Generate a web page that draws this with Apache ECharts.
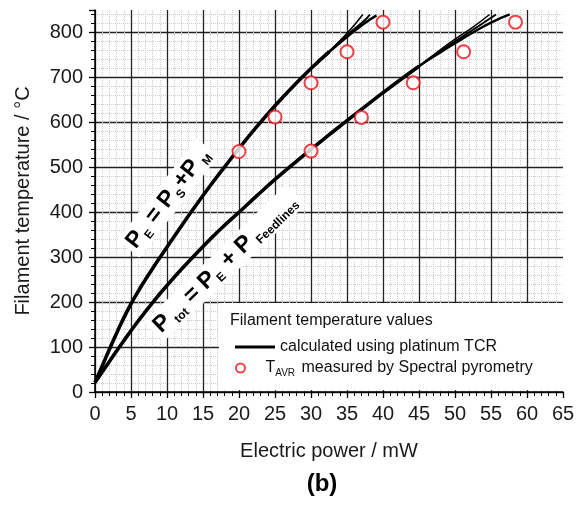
<!DOCTYPE html>
<html>
<head>
<meta charset="utf-8">
<script src="https://cdn.jsdelivr.net/npm/echarts/dist/echarts.min.js"></script>
<style>
  html, body { margin: 0; padding: 0; background: #fff; }
  #main { width: 585px; height: 506px; }
</style>
</head>
<body>
<div id="main"></div>
<script>
// calculated curve P_E = P_S + P_M (common part, then the bundle of thin lines at the top)
var leftX = [0, 1, 2, 3, 4, 5, 6, 7, 8, 9.3, 11, 13.6, 16, 18.2, 20, 22.5, 25, 27.5, 30, 32.5];
var leftY = [21, 58, 95, 131, 165, 196, 224, 250, 275, 306, 346, 406, 459, 505, 542, 591, 637, 680, 720, 757];
var leftTopX1 = [30, 32.5, 35, 37.2];
var leftTopY1 = [720, 758, 798, 840];
var leftTopX2 = [30, 32.5, 35, 37.5, 38.2];
var leftTopY2 = [720, 757, 794, 828, 840];
var leftTopX3 = [30, 32.5, 35, 37.5, 39.1];
var leftTopY3 = [720, 756, 790, 821, 838];

// calculated curve P_tot = P_E + P_Feedlines
var rightX = [0, 2, 4, 6, 8, 10, 12, 14, 16, 18, 20, 22.5, 25, 27.5, 30, 32.5, 35, 37.5, 40, 42.5, 45];
var rightY = [21, 68, 114, 158, 199, 237, 273, 307, 340, 371, 400, 437, 473, 507, 540, 572, 604, 635, 666, 696, 725];
var rightTopX1 = [42.5, 45, 47.5, 50, 52.5, 54.8];
var rightTopY1 = [696, 725, 756, 785, 812, 840];
var rightTopX2 = [42.5, 45, 47.5, 50, 52.5, 55.7];
var rightTopY2 = [696, 725, 753, 780, 806, 840];
var rightTopX3 = [42.5, 45, 47.5, 50, 52.5, 55, 57.6];
var rightTopY3 = [696, 725, 751, 776, 800, 822, 840];

// T_AVR by spectral pyrometry
var measLeftX = [20, 25, 30, 35, 40];
var measLeftY = [535, 612, 688, 757, 823];
var measRightX = [30, 37, 44.2, 51.2, 58.4];
var measRightY = [536, 611, 688, 757, 823];

var lineName = 'calculated using platinum TCR';
var dotName = 'TAVR measured by Spectral pyrometry';

function pairs(xs, ys) {
    var out = [];
    for (var i = 0; i < xs.length; i++) out.push([xs[i], ys[i]]);
    return out;
}

function curve(xs, ys, w) {
    return {
        name: lineName,
        type: 'line',
        data: pairs(xs, ys),
        symbol: 'none',
        smooth: 0.5,
        lineStyle: { color: '#000', width: w },
        itemStyle: { color: '#000' },
        z: 3
    };
}

function dots(xs, ys) {
    return {
        name: dotName,
        type: 'scatter',
        data: pairs(xs, ys),
        symbol: 'emptyCircle',
        symbolSize: 13,
        itemStyle: { color: '#e8141b', borderColor: '#e8141b', borderWidth: 2.6 },
        z: 4
    };
}

var font = 'Liberation Sans, Arial, sans-serif';

var chart = echarts.init(document.getElementById('main'), null, { renderer: 'canvas' });
chart.setOption({
    animation: false,
    backgroundColor: '#fff',
    grid: { left: 95, right: 22, top: 10, bottom: 114 },
    xAxis: {
        type: 'value',
        min: 0, max: 65, interval: 5,
        name: 'Electric power / mW',
        nameLocation: 'middle',
        nameGap: 49,
        nameTextStyle: { fontSize: 20, color: '#1a1a1a', fontFamily: font },
        axisLine: { lineStyle: { color: '#000', width: 1.5 } },
        axisTick: { length: 6, lineStyle: { color: '#000', width: 1.3 } },
        minorTick: { show: true, splitNumber: 5, length: 4, lineStyle: { color: '#000', width: 1 } },
        axisLabel: { fontSize: 20, color: '#1a1a1a', fontFamily: font, margin: 12 },
        splitLine: { show: true, showMaxLine: false, lineStyle: { color: '#222', width: 1.3 } },
        minorSplitLine: { show: true, lineStyle: { color: '#cccccc', width: 1, type: 'dotted' } }
    },
    yAxis: {
        type: 'value',
        min: 0, max: 850, interval: 100,
        name: 'Filament temperature / °C',
        nameLocation: 'middle',
        nameGap: 62,
        nameTextStyle: { fontSize: 20, color: '#1a1a1a', fontFamily: font },
        axisLine: { show: true, lineStyle: { color: '#000', width: 1.5 } },
        axisTick: { show: true, length: 6, lineStyle: { color: '#000', width: 1.3 } },
        minorTick: { show: true, splitNumber: 5, length: 4, lineStyle: { color: '#000', width: 1 } },
        axisLabel: { fontSize: 20, color: '#1a1a1a', fontFamily: font, margin: 12, showMaxLabel: false },
        splitLine: { show: true, showMaxLine: false, lineStyle: { color: '#222', width: 1.3 } },
        minorSplitLine: { show: true, lineStyle: { color: '#cccccc', width: 1, type: 'dotted' } }
    },
    legend: [{
        data: [{ name: lineName, icon: 'rect' }],
        orient: 'vertical',
        left: 230, top: 334,
        itemWidth: 40, itemHeight: 3,
        selectedMode: false,
        textStyle: { fontSize: 16, color: '#111', fontFamily: font }
    }, {
        data: [dotName],
        orient: 'vertical',
        left: 230, top: 355,
        itemWidth: 40, itemHeight: 9,
        selectedMode: false,
        formatter: function () {
            return '{n|T}{sub|AVR}{n| measured by Spectral pyrometry}';
        },
        textStyle: {
            fontSize: 16, color: '#111', fontFamily: font,
            rich: {
                n: { fontSize: 16, color: '#111', fontFamily: font },
                sub: { fontSize: 10, color: '#111', fontFamily: font, padding: [10, 2, 0, 0] }
            }
        }
    }],
    graphic: [
        // white box behind the legend
        { type: 'rect', z: 1, shape: { x: 219, y: 303, width: 360, height: 87 }, style: { fill: '#fff' } },
        { type: 'text', z: 5, x: 230, y: 321,
          style: { text: 'Filament temperature values', fontSize: 16, fill: '#111', fontFamily: font, verticalAlign: 'middle' } },
        // curve labels
        { type: 'text', z: 1, x: 168, y: 198, rotation: 52 * Math.PI / 180,
          style: {
            text: '{p|P}{s|E}{p| = P}{s|S}{p|+P}{s| M}',
            align: 'center', verticalAlign: 'middle',
            backgroundColor: '#fff', padding: [0, 4, 0, 4],
            rich: {
                p: { fontSize: 23, fontWeight: 'bold', fill: '#000', fontFamily: font },
                s: { fontSize: 12, fontWeight: 'bold', fill: '#000', fontFamily: font, padding: [16, 1, 0, 1] }
            }
          } },
        { type: 'text', z: 1, x: 225, y: 263, rotation: 44 * Math.PI / 180,
          style: {
            text: '{p|P}{s| tot}{p| = P}{s|E}{p| + P}{s| Feedlines}',
            align: 'center', verticalAlign: 'middle',
            backgroundColor: '#fff', padding: [0, 4, 0, 4],
            rich: {
                p: { fontSize: 23, fontWeight: 'bold', fill: '#000', fontFamily: font },
                s: { fontSize: 12, fontWeight: 'bold', fill: '#000', fontFamily: font, padding: [16, 1, 0, 1] }
            }
          } },
        { type: 'text', z: 5, x: 322, y: 484,
          style: { text: '(b)', fontSize: 24, fontWeight: 'bold', fill: '#000', fontFamily: font, align: 'center', verticalAlign: 'middle' } }
    ],
    series: [
        curve(leftX, leftY, 3.6),
        curve(leftTopX1, leftTopY1, 1.5),
        curve(leftTopX2, leftTopY2, 2),
        curve(leftTopX3, leftTopY3, 2.4),
        curve(rightX, rightY, 3.6),
        curve(rightTopX1, rightTopY1, 1.5),
        curve(rightTopX2, rightTopY2, 2),
        curve(rightTopX3, rightTopY3, 2.4),
        dots(measLeftX, measLeftY),
        dots(measRightX, measRightY)
    ]
});
</script>
</body>
</html>
